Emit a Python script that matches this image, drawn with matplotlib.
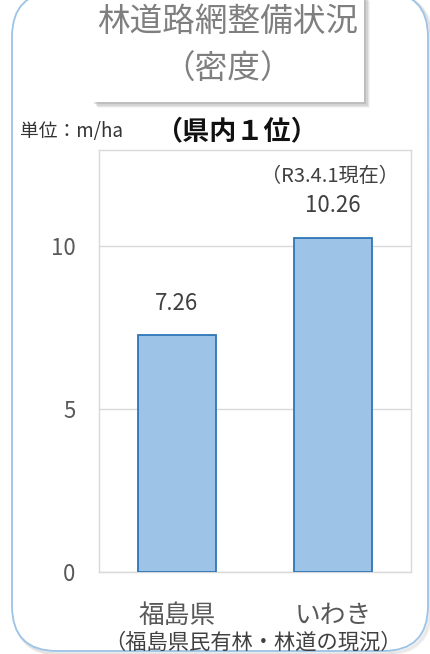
import matplotlib
matplotlib.use("Agg")
import matplotlib.pyplot as plt
from matplotlib.patches import FancyBboxPatch, Rectangle

plt.rcParams['font.family'] = ['Noto Sans CJK JP', 'DejaVu Sans']

categories = ['福島県', 'いわき']
values = [7.26, 10.26]
value_labels = ['7.26', '10.26']
yticks = [0, 5, 10]
title_lines = ['林道路網整備状況', '（密度）']
unit_text = '単位：m/ha'
rank_text = '（県内１位）'
date_text = '（R3.4.1現在）'
source_text = '（福島県民有林・林道の現況）'

W, H = 431, 654
fig = plt.figure(figsize=(W / 100, H / 100), dpi=100)
fig.patch.set_facecolor('white')

# overlay axes in pixel coordinates
bg = fig.add_axes([0, 0, 1, 1], zorder=0)
bg.set_xlim(0, W)
bg.set_ylim(H, 0)
bg.axis('off')

# outer rounded frame with soft shadow
for i, a in enumerate([0.06, 0.08, 0.10]):
    off = 4 - i
    bg.add_patch(FancyBboxPatch((12 + off, -8 + off), 416, 659,
                                boxstyle="round,pad=0,rounding_size=45",
                                fc='none', ec='#7f7f7f', lw=2.5, alpha=a))
bg.add_patch(FancyBboxPatch((12, -8), 416, 659,
                            boxstyle="round,pad=0,rounding_size=45",
                            fc='white', ec='#9DC3E6', lw=1.3))

# title box with shadow
for i, a in enumerate([0.08, 0.12, 0.18, 0.25]):
    off = 6 - i * 1.2
    bg.add_patch(Rectangle((92 + off, -5 + off), 272, 107,
                           fc='#808080', ec='none', alpha=a))
bg.add_patch(Rectangle((92, -5), 272, 107, fc='white', ec='none'))
bg.text(228, 22, title_lines[0], ha='center', va='center', fontsize=23.5, color='#7f7f7f')
bg.text(228, 70, title_lines[1], ha='center', va='center', fontsize=23.5, color='#7f7f7f')

bg.text(20, 132, unit_text, ha='left', va='center', fontsize=13.5, color='#333333')
bg.text(155, 131, rank_text, ha='left', va='center', fontsize=19.5, fontweight='bold', color='#111111')
bg.text(253, 643, source_text, ha='center', va='center', fontsize=15.3, color='#404040')

# chart axes
ax = fig.add_axes([99 / W, (H - 572) / H, 312 / W, (572 - 150) / H], zorder=1)
ax.set_facecolor('white')
x = list(range(len(categories)))
ax.bar(x, values, width=0.5, color='#9DC3E6', edgecolor='#2E75B6', linewidth=1.3, zorder=3)
ax.set_xlim(-0.5, 1.5)
ax.set_ylim(0, 12.95)
ax.set_yticks(yticks)
ax.set_yticklabels([str(t) for t in yticks])
ax.yaxis.grid(True, color='#D9D9D9', linewidth=1)
ax.set_axisbelow(True)
ax.set_xticks(x)
ax.set_xticklabels(categories)
ax.tick_params(axis='y', length=0, pad=17, labelsize=16, labelcolor='#595959')
ax.tick_params(axis='x', length=0, pad=22, labelsize=18.5, labelcolor='#595959')
for s in ax.spines.values():
    s.set_color('#D9D9D9')
    s.set_linewidth(1)

for xi, v, lab in zip(x, values, value_labels):
    ax.annotate(lab, (xi, v), xytext=(0, 23), textcoords='offset points',
                ha='center', va='center', fontsize=16, color='#404040')
ax.annotate(date_text, (x[1], values[1]), xytext=(-2, 44), textcoords='offset points',
            ha='center', va='center', fontsize=14.5, color='#404040')

fig.savefig('out.png', dpi=100)
